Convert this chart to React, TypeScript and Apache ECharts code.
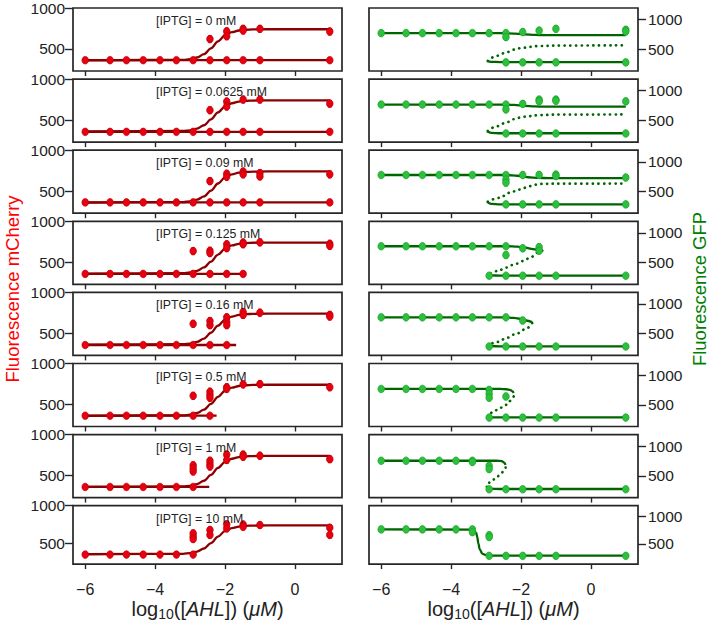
import React, { useEffect, useRef } from 'react';
import * as echarts from 'echarts';

// ---------- data ----------
const AHL = [-6, -5.29, -4.82, -4.34, -3.86, -3.39, -2.91, -2.43, -1.95, -1.48, -1.0, 1.0];
const IPTG = ['0', '0.0625', '0.09', '0.125', '0.16', '0.5', '1', '10'];
const X_TICKS = [-6, -4, -2, 0];
const Y_TICKS = [500, 1000];

// mCherry fitted curve (same in every panel)
const cherryFitX = [-6, -3.2, -3.0, -2.8, -2.6, -2.4, -2.2, -2.0, -1.8, -1.6, -1.4, -1.2, -0.8, 1];
const cherryFitY = [360, 366, 374, 395, 436, 507, 593, 664, 705, 725, 734, 738, 740, 740];
// mCherry low branch: level and where the line ends (null = none)
const cherryLowY = [362, 355, 362, 357, 357, 362, 360, 355];
const cherryLowEnd = [1, 1, 1, -1.42, -1.68, -2.24, -2.45, null];
// how many AHL points sit on the low branch
const cherryLowCount = [12, 12, 12, 10, 9, 8, 7, 7];
// mCherry points on the upper branch [x, y]
const cherryHigh = [
  [[-2.43, 620], [-1.95, 715], [-1.95, 655], [-1.48, 745], [-1.48, 725], [-1.0, 745], [1.0, 712]],
  [[-2.43, 620], [-1.95, 725], [-1.95, 665], [-1.48, 750], [-1.0, 750], [1.0, 700]],
  [[-2.43, 622], [-1.95, 712], [-1.95, 675], [-1.48, 738], [-1.48, 705], [-1.0, 720], [-1.0, 680], [1.0, 705]],
  [[-2.91, 636], [-2.43, 640], [-2.43, 612], [-1.95, 718], [-1.95, 672], [-1.48, 740], [-1.48, 720], [-1.0, 743], [1.0, 725], [1.0, 700]],
  [[-2.91, 616], [-2.43, 650], [-2.43, 600], [-1.95, 695], [-1.95, 640], [-1.95, 600], [-1.48, 760], [-1.48, 725], [-1.0, 752], [1.0, 725], [1.0, 705]],
  [[-2.91, 605], [-2.43, 655], [-2.43, 615], [-2.43, 580], [-1.95, 710], [-1.95, 690], [-1.48, 745], [-1.0, 748], [1.0, 710]],
  [[-2.91, 625], [-2.91, 585], [-2.91, 550], [-2.43, 680], [-2.43, 640], [-2.43, 610], [-1.95, 755], [-1.95, 690], [-1.48, 755], [-1.48, 730], [-1.0, 742], [1.0, 700]],
  [[-2.91, 635], [-2.91, 595], [-2.91, 560], [-2.43, 680], [-2.43, 615], [-1.95, 755], [-1.95, 700], [-1.48, 752], [-1.48, 722], [-1.0, 745], [1.0, 710], [1.0, 615]],
];
const cherryErr = 40;
const cherryLowErr = 20;

// GFP: stable high branch
const gfpHighLine = [
  [[-6, 772], [-2.6, 772], [-2.2, 765], [-1.9, 752], [-1.6, 742], [-1.3, 740], [1, 740]],
  [[-6, 767], [-2.6, 767], [-2.2, 760], [-1.9, 745], [-1.6, 735], [-1.3, 732], [1, 732]],
  [[-6, 778], [-2.4, 778], [-2.1, 765], [-1.8, 740], [-1.5, 728], [-1.2, 726], [1, 726]],
  [[-6, 775], [-2.4, 775], [-2.1, 768], [-1.9, 755], [-1.7, 732], [-1.5, 712], [-1.39, 705]],
  [[-6, 775], [-2.5, 775], [-2.2, 765], [-2.0, 748], [-1.85, 722], [-1.68, 694]],
  [[-6, 767], [-2.6, 767], [-2.42, 762], [-2.3, 748], [-2.24, 725], [-2.21, 700]],
  [[-6, 755], [-2.7, 755], [-2.55, 750], [-2.48, 725], [-2.44, 685]],
  [[-6, 765], [-3.45, 762], [-3.35, 745], [-3.28, 700], [-3.25, 622], [-3.22, 511], [-3.18, 400], [-3.1, 320], [-3.0, 298], [-2.9, 290], [1, 288]],
];
// GFP: unstable branch (dotted)
const gfpUnstable = [
  [[-2.95, 305], [-2.7, 390], [-2.43, 445], [-2.2, 495], [-1.95, 528], [-1.47, 555], [-1.0, 563], [0.92, 567]],
  [[-2.95, 322], [-2.7, 400], [-2.43, 461], [-2.2, 520], [-1.95, 561], [-1.47, 589], [-1.0, 598], [1, 600]],
  [[-2.95, 330], [-2.61, 395], [-2.33, 478], [-2.04, 533], [-1.75, 589], [-1.47, 628], [-1.0, 632], [0.97, 633]],
  [[-1.39, 700], [-1.52, 667], [-1.71, 593], [-1.94, 527], [-2.18, 472], [-2.42, 417], [-2.66, 360], [-2.95, 292]],
  [[-1.68, 680], [-1.85, 583], [-2.13, 500], [-2.42, 428], [-2.66, 361], [-2.95, 305]],
  [[-2.21, 640], [-2.35, 555], [-2.42, 500], [-2.61, 445], [-2.8, 378], [-2.95, 305]],
  [[-2.44, 640], [-2.5, 580], [-2.56, 545], [-2.71, 472], [-2.85, 405], [-2.99, 333]],
  [],
];
// GFP: stable low branch
const gfpLowLine = [
  [[-2.97, 305], [-2.85, 290], [-2.6, 286], [1, 286]],
  [[-2.97, 318], [-2.85, 290], [-2.6, 284], [1, 284]],
  [[-2.97, 325], [-2.85, 292], [-2.6, 285], [1, 285]],
  [[-2.97, 292], [-2.85, 284], [-2.6, 282], [1, 282]],
  [[-2.97, 300], [-2.85, 290], [-2.6, 288], [1, 288]],
  [[-2.97, 300], [-2.85, 290], [-2.6, 288], [1, 288]],
  [[-3.0, 330], [-2.9, 285], [-2.6, 280], [1, 280]],
  [],
];
const gfpHighCount = [8, 8, 8, 8, 8, 6, 6, 6];
const gfpHighY = [772, 767, 778, 775, 775, 767, 755, 765];
const gfpLowStart = [7, 7, 7, 6, 6, 6, 6, 6];
const gfpLowY = [280, 280, 283, 280, 285, 285, 275, 285];
const gfpExtra = [
  [[-2.43, 705], [-1.95, 790], [-1.48, 815], [-1.0, 845], [1.0, 830], [1.0, 800]],
  [[-2.43, 685], [-1.95, 778], [-1.48, 850], [-1.48, 820], [-1.0, 850], [-1.0, 830], [1.0, 820]],
  [[-2.43, 700], [-2.43, 648], [-1.95, 778], [-1.48, 780], [-1.0, 785], [-1.0, 760], [1.0, 735]],
  [[-2.43, 627], [-1.95, 740], [-1.48, 760], [-1.48, 700]],
  [[-1.95, 722]],
  [[-2.91, 750], [-2.91, 685], [-2.91, 620], [-2.43, 640]],
  [[-3.39, 735], [-2.91, 670], [-2.91, 615]],
  [[-3.39, 715], [-2.91, 660], [-2.91, 625]],
];
const gfpErr = 50;
const gfpBranchErr = 28;

// ---------- styling ----------
const FONT = '"Liberation Sans", Arial, Helvetica, sans-serif';
const INK = '#222222';
const RED_LINE = '#8b0000';
const RED_PT = '#e60012';
const RED_EDGE = '#c00000';
const GREEN_LINE = '#006400';
const GREEN_PT = '#2cc03c';
const GREEN_EDGE = '#17a02a';
const ROW_TOPS = [8, 79.1, 150.2, 221.3, 292.4, 363.5, 434.6, 505.7];
const PANEL_H = 63;
const PANEL_W = 269;
const COL_LEFT = [73, 369];

const minusFmt = (v: number) => String(v).replace('-', '\u2212');

function pointsSeries(gi: number, data: number[][], fill: string, edge: string) {
  return {
    type: 'custom',
    xAxisIndex: gi,
    yAxisIndex: gi,
    data,
    encode: { x: 0, y: 1 },
    z: 4,
    renderItem: (_p: any, api: any) => {
      const x = api.value(0);
      const y = api.value(1);
      const e = api.value(2);
      const c = api.coord([x, y]);
      const t = api.coord([x, y + e]);
      const b = api.coord([x, y - e]);
      const ls = { stroke: fill, lineWidth: 1.5 };
      return {
        type: 'group',
        children: [
          { type: 'line', shape: { x1: c[0], y1: t[1], x2: c[0], y2: b[1] }, style: ls },
          { type: 'line', shape: { x1: c[0] - 1.6, y1: t[1], x2: c[0] + 1.6, y2: t[1] }, style: ls },
          { type: 'line', shape: { x1: c[0] - 1.6, y1: b[1], x2: c[0] + 1.6, y2: b[1] }, style: ls },
          { type: 'ellipse', shape: { cx: c[0], cy: c[1], rx: 3.3, ry: 3.8 }, style: { fill, stroke: edge, lineWidth: 0.7 } },
        ],
      };
    },
  };
}

function lineSeries(gi: number, data: number[][], color: string, dotted = false) {
  return {
    type: 'line',
    xAxisIndex: gi,
    yAxisIndex: gi,
    data,
    smooth: 0.35,
    smoothMonotone: 'x',
    symbol: 'none',
    z: 3,
    lineStyle: dotted
      ? { color, width: 2.7, type: [0.1, 5.6], cap: 'round' }
      : { color, width: 2.3 },
  };
}

function buildOption() {
  const grid: any[] = [];
  const xAxis: any[] = [];
  const yAxis: any[] = [];
  const series: any[] = [];
  const graphic: any[] = [];
  const axisName = '{n|log}{s|10}{n|([}{i|AHL}{n|]) (}{i|\u03bcM}{n|)}';
  const nameRich = {
    n: { fontSize: 20, fontFamily: FONT, color: INK, lineHeight: 24 },
    s: { fontSize: 14, fontFamily: FONT, color: INK, lineHeight: 24, verticalAlign: 'bottom', padding: [9, 0, 0, 0] },
    i: { fontSize: 20, fontFamily: FONT, fontStyle: 'italic', color: INK, lineHeight: 24 },
  };

  for (let r = 0; r < 8; r++) {
    for (let c = 0; c < 2; c++) {
      const gi = r * 2 + c;
      const bottom = r === 7;
      grid.push({
        left: COL_LEFT[c], top: ROW_TOPS[r], width: PANEL_W, height: PANEL_H,
        show: true, borderColor: '#262626', borderWidth: 1.7, backgroundColor: 'transparent',
      });
      xAxis.push({
        type: 'value', gridIndex: gi, min: -6.35, max: 1.35,
        axisLine: { show: false, onZero: false },
        axisTick: { show: true, customValues: X_TICKS, length: 5, lineStyle: { color: '#262626', width: 1.4 } },
        axisLabel: {
          show: bottom, customValues: X_TICKS, formatter: minusFmt,
          fontSize: 16, fontFamily: FONT, color: INK, margin: 17,
        },
        splitLine: { show: false },
        name: bottom ? axisName : '',
        nameLocation: 'middle', nameGap: 32,
        nameTextStyle: { rich: nameRich },
      });
      yAxis.push({
        type: 'value', gridIndex: gi,
        min: c === 0 ? 230 : 135, max: c === 0 ? 1000 : 1195,
        position: c === 0 ? 'left' : 'right',
        axisLine: { show: false, onZero: false },
        axisTick: { show: true, customValues: Y_TICKS, length: 8, lineStyle: { color: '#262626', width: 1.4 } },
        axisLabel: {
          customValues: Y_TICKS, formatter: (v: number) => String(v),
          fontSize: 15.5, fontFamily: FONT, color: INK, margin: c === 0 ? 8 : 10,
        },
        splitLine: { show: false },
      });

      if (c === 0) {
        series.push(lineSeries(gi, cherryFitX.map((x, i) => [x, cherryFitY[i]]), RED_LINE));
        const end = cherryLowEnd[r];
        if (end !== null) {
          series.push({ ...lineSeries(gi, [[-6, cherryLowY[r]], [end, cherryLowY[r]]], RED_LINE), smooth: false });
        }
        const pts = AHL.slice(0, cherryLowCount[r]).map((x) => [x, cherryLowY[r], cherryLowErr])
          .concat(cherryHigh[r].map(([x, y]) => [x, y, cherryErr]));
        series.push(pointsSeries(gi, pts, RED_PT, RED_EDGE));
        graphic.push({
          type: 'text', x: 156, y: ROW_TOPS[r] + 13, z: 10,
          style: { text: `[IPTG] = ${IPTG[r]} mM`, fontSize: 12.3, fontFamily: FONT, fill: INK, verticalAlign: 'middle' },
        });
      } else {
        series.push(lineSeries(gi, gfpHighLine[r], GREEN_LINE));
        if (gfpUnstable[r].length) series.push(lineSeries(gi, gfpUnstable[r], GREEN_LINE, true));
        if (gfpLowLine[r].length) series.push(lineSeries(gi, gfpLowLine[r], GREEN_LINE));
        const pts = AHL.slice(0, gfpHighCount[r]).map((x) => [x, gfpHighY[r], gfpBranchErr])
          .concat(gfpExtra[r].map(([x, y]) => [x, y, gfpErr]))
          .concat(AHL.slice(gfpLowStart[r]).map((x) => [x, gfpLowY[r], gfpBranchErr]));
        series.push(pointsSeries(gi, pts, GREEN_PT, GREEN_EDGE));
      }
    }
  }

  graphic.push({
    type: 'text', x: 12, y: 289, rotation: Math.PI / 2, z: 10,
    style: { text: 'Fluorescence mCherry', fontSize: 18.5, fontFamily: FONT, fill: '#ff0000', align: 'center', verticalAlign: 'middle' },
  });
  graphic.push({
    type: 'text', x: 699, y: 289, rotation: Math.PI / 2, z: 10,
    style: { text: 'Fluorescence GFP', fontSize: 18.5, fontFamily: FONT, fill: '#008000', align: 'center', verticalAlign: 'middle' },
  });

  return {
    animation: false,
    backgroundColor: '#ffffff',
    grid, xAxis, yAxis, series, graphic,
  };
}

export default function App() {
  const ref = useRef<HTMLDivElement>(null);
  useEffect(() => {
    if (!ref.current) return;
    const chart = echarts.init(ref.current, undefined, { renderer: 'svg' });
    chart.setOption(buildOption() as any);
    return () => chart.dispose();
  }, []);
  return (
    <div
      ref={ref}
      style={{ position: 'fixed', left: 0, top: 0, width: 708, height: 622, background: '#fff' }}
    />
  );
}
